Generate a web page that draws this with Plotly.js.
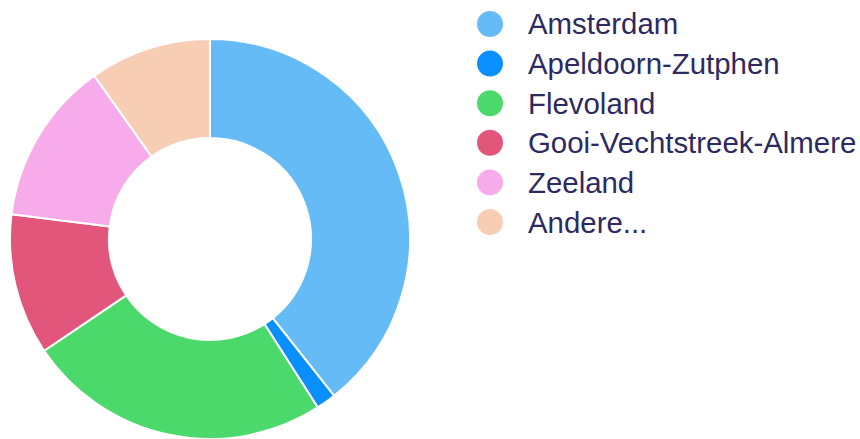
<!DOCTYPE html>
<html>
<head>
<meta charset="utf-8">
<script src="https://cdn.plot.ly/plotly-3.0.1.min.js"></script>
<style>html,body{margin:0;padding:0;background:#fff;}#chart{width:860px;height:439px;}</style>
</head>
<body>
<div id="chart"></div>
<script>
const labels = ["Amsterdam", "Apeldoorn-Zutphen", "Flevoland", "Gooi-Vechtstreek-Almere", "Zeeland", "Andere..."];
const values = [39.3, 1.6, 24.6, 11.4, 13.2, 9.8];
const colors = ["#64bbf5", "#0a8ffe", "#4cd96c", "#e3567c", "#f7abea", "#f7cdb4"];

const W = 860, H = 439;
const textColor = "#2c2a60";

const shapes = [];
const annotations = [];
labels.forEach((lab, i) => {
  const cy = 24 + i * 39.6;
  shapes.push({
    type: "circle", xref: "paper", yref: "paper",
    x0: 477 / W, x1: 503 / W,
    y0: 1 - (cy + 13) / H, y1: 1 - (cy - 13) / H,
    fillcolor: colors[i], line: { width: 0 }
  });
  annotations.push({
    xref: "paper", yref: "paper",
    x: 526 / W, y: 1 - cy / H,
    xanchor: "left", yanchor: "middle",
    text: lab, showarrow: false,
    font: { family: "Liberation Sans, Arial, sans-serif", size: 29.4, color: textColor }
  });
});

const data = [{
  type: "pie",
  labels: labels,
  values: values,
  hole: 0.505,
  sort: false,
  direction: "clockwise",
  rotation: 0,
  textinfo: "none",
  hoverinfo: "label+value",
  marker: { colors: colors, line: { color: "#ffffff", width: 2 } },
  domain: { x: [10 / W, 410 / W], y: [0, 400 / H] },
  showlegend: false
}];

const layout = {
  width: W, height: H,
  margin: { l: 0, r: 0, t: 0, b: 0 },
  paper_bgcolor: "#ffffff",
  showlegend: false,
  shapes: shapes,
  annotations: annotations
};

Plotly.newPlot("chart", data, layout, { displayModeBar: false, staticPlot: true });
</script>
</body>
</html>
